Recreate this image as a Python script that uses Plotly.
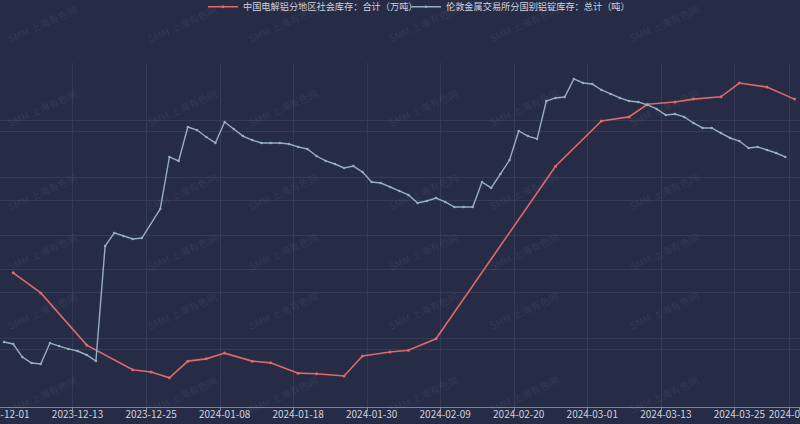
import plotly.graph_objects as go

# ---------------- data ----------------
dates = (
    ["2023-12-%02d" % d for d in [1, 4, 5, 6, 7, 8, 11, 12, 13, 14, 15, 18, 19, 20, 21, 22, 25, 27, 28, 29]]
    + ["2024-01-%02d" % d for d in [2, 3, 4, 5, 8, 9, 10, 11, 12, 15, 16, 17, 18, 19, 22, 23, 24, 25, 26, 29, 30, 31]]
    + ["2024-02-%02d" % d for d in [1, 2, 5, 6, 7, 8, 9, 12, 13, 14, 15, 16, 18, 19, 20, 21, 22, 23, 26, 27, 28, 29]]
    + ["2024-03-%02d" % d for d in [1, 4, 5, 6, 7, 8, 11, 12, 13, 14, 15, 18, 19, 20, 21, 22, 25, 26, 27, 28]]
    + ["2024-04-%02d" % d for d in [1, 2, 3]]
)

# China electrolytic aluminium social inventory (10k t), reported Mon/Thu
china_dates = ["2023-12-04", "2023-12-07", "2023-12-14", "2023-12-21", "2023-12-25", "2023-12-28",
               "2024-01-02", "2024-01-04", "2024-01-08", "2024-01-11", "2024-01-15", "2024-01-18",
               "2024-01-22", "2024-01-25", "2024-01-29", "2024-02-01", "2024-02-05", "2024-02-08",
               "2024-02-26", "2024-03-04", "2024-03-07", "2024-03-11", "2024-03-14", "2024-03-18",
               "2024-03-21", "2024-03-25", "2024-03-28", "2024-04-03"]
china_values = [53.4, 49.9, 40.8, 36.5, 36.1, 35.1,
                38.0, 38.4, 39.4, 38.0, 37.7, 35.9,
                35.8, 35.4, 38.9, 39.6, 39.9, 41.9,
                72.0, 79.9, 80.6, 82.8, 83.2, 83.7,
                84.1, 86.5, 85.8, 83.7]

# LME aluminium stocks (t)
lme_values = [397200, 395800, 386300, 382000, 381300, 396500, 394300, 392200, 390700, 387800,
              383400, 467000, 476500, 474300, 472100, 472800, None, 493900, 531700, 528800,
              553500, 551300, 546200, 541900, 557100, 552000, 546900, 544000, 541900, 541900,
              541900, 541100, 539000, 537500, 532400, 528800, 526600, 523700, 525100, 520800,
              513500, 512800, 509900, 507000, 504100, 498300, 499700, 501900, 499000, 495300,
              495300, 495300, 513500, 509200, 519300, 529500, 550600, 546900, 544800, 572400,
              574600, 575300, 588400, 585500, 584700, 580400, 577500, 574600, 572400, 571700,
              569500, 566600, 562200, 562900, 560800, 556400, 552800, 552800, 549100, 545500,
              543300, 538200, 539000, 536800, 534600, 531700, None]

tick_dates = ["2023-12-01", "2023-12-13", "2023-12-25", "2024-01-08", "2024-01-18", "2024-01-30",
              "2024-02-09", "2024-02-20", "2024-03-01", "2024-03-13", "2024-03-25", "2024-04-03"]

name_china = "中国电解铝分地区社会库存：合计（万吨）"
name_lme = "伦敦金属交易所分国别铝锭库存：总计（吨）"

# ---------------- styling ----------------
BG = "#272c46"
GRID = "#353a56"
RED = "#e0676b"
GRAY = "#97afbd"
TXT = "#cfd2dc"
AXIS = "#7d8296"
FONT = "Noto Sans CJK SC, Noto Sans, sans-serif"

W, H = 800, 424
MT, MB = 63, 17

china_map = dict(zip(china_dates, china_values))
china_series = [china_map.get(d) for d in dates]

fig = go.Figure()
fig.add_trace(go.Scatter(
    x=dates, y=china_series, name=name_china, mode="lines+markers",
    connectgaps=True, line=dict(color=RED, width=1.6),
    marker=dict(size=3, color=RED), yaxis="y", legend="legend"))
fig.add_trace(go.Scatter(
    x=dates, y=lme_values, name=name_lme, mode="lines+markers",
    connectgaps=True, line=dict(color=GRAY, width=1.4),
    marker=dict(size=2.5, color=GRAY), yaxis="y2", legend="legend2"))

# watermark grid (decorative)
ph = H - MT - MB
annots = []
for j in range(6):
    py = -1 + 84 * j
    for k in range(6):
        px = 3 + 140 * k
        annots.append(dict(
            text="SMM 上海有色网", x=px / W, y=(H - MB - py) / ph,
            xref="paper", yref="paper", showarrow=False, textangle=-24,
            font=dict(family=FONT, size=10, color="rgba(200,205,225,0.09)")))

leg_common = dict(orientation="h", xanchor="left", y=0.984, yanchor="middle",
                  yref="container", font=dict(size=9.2, color=TXT, family=FONT),
                  itemwidth=30, bgcolor="rgba(0,0,0,0)", borderwidth=0)

fig.update_layout(
    width=W, height=H,
    template="none",
    paper_bgcolor=BG, plot_bgcolor=BG,
    margin=dict(l=0, r=0, t=MT, b=MB),
    font=dict(family=FONT, color=TXT, size=10),
    showlegend=True,
    legend=dict(x=203 / W, **leg_common),
    legend2=dict(x=406 / W, **leg_common),
    annotations=annots,
    xaxis=dict(type="category", categoryorder="array", categoryarray=dates,
               range=[-0.435, 86.6], tickmode="array", tickvals=tick_dates,
               ticktext=tick_dates, tickson="boundaries", showgrid=True,
               gridcolor=GRID, gridwidth=1, showline=True, linecolor=AXIS,
               linewidth=1, ticks="outside", ticklen=3, tickcolor=AXIS,
               ticklabelstandoff=-2, tickangle=0,
               tickfont=dict(size=10, color=TXT), automargin=False, zeroline=False,
               fixedrange=True),
    yaxis=dict(range=[30, 90], dtick=10, tick0=30, showticklabels=False,
               showgrid=True, gridcolor=GRID, zeroline=False, showline=False,
               automargin=False),
    yaxis2=dict(range=[350000, 600000], dtick=50000, tick0=350000, overlaying="y",
                side="right", showticklabels=False, showgrid=True, gridcolor=GRID,
                zeroline=False, showline=False, automargin=False),
)

fig.write_html(
    "out.html",
    config={"displayModeBar": False},
    post_script="document.body.style.margin='0';document.body.style.overflow='hidden';"
                "document.body.style.background='%s';" % BG,
)
